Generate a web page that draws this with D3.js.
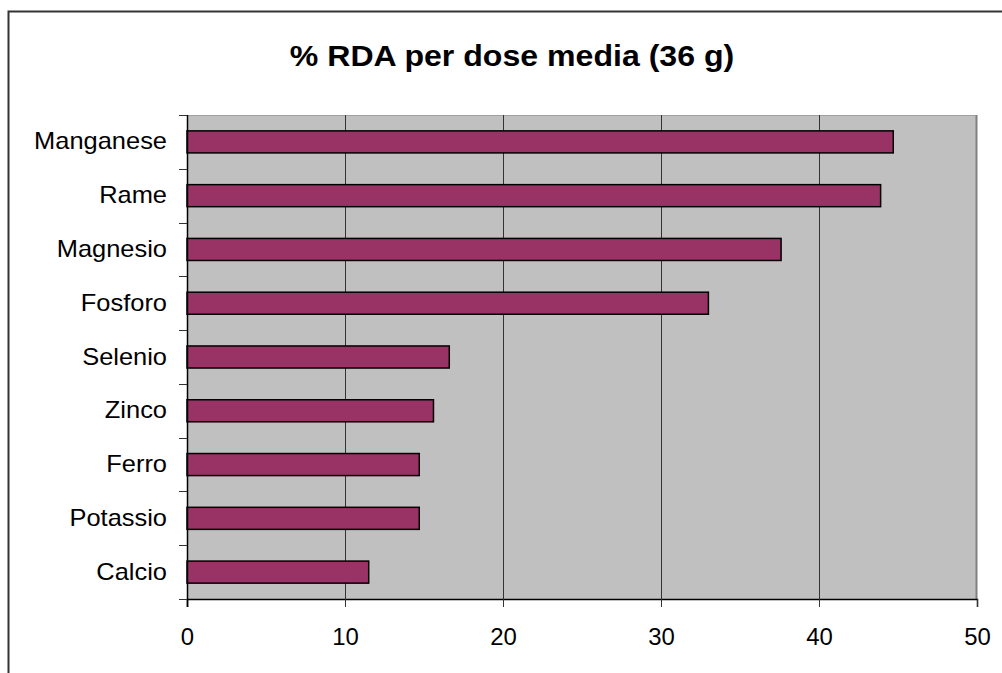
<!DOCTYPE html>
<html>
<head>
<meta charset="utf-8">
<script src="https://cdn.jsdelivr.net/npm/d3@7"></script>
<style>
  body { margin: 0; background: #fff; }
  text { font-family: "Liberation Sans", Arial, sans-serif; fill: #000; }
</style>
</head>
<body>
<div id="chart"></div>
<script>
// data, top to bottom as in the chart
var minerals = ["Manganese", "Rame", "Magnesio", "Fosforo", "Selenio", "Zinco", "Ferro", "Potassio", "Calcio"];
var rdaPct = [44.7, 43.9, 37.6, 33.0, 16.6, 15.6, 14.7, 14.7, 11.5];
var xTicks = [0, 10, 20, 30, 40, 50];
var chartTitle = "% RDA per dose media (36 g)";

var svgWidth = 1002;
var svgHeight = 673;

var margin = { top: 115, right: 25, bottom: 74, left: 187 };
var width = svgWidth - margin.left - margin.right;
var height = svgHeight - margin.top - margin.bottom;

var svg = d3.select("#chart")
  .append("svg")
  .attr("width", svgWidth)
  .attr("height", svgHeight);

// outer chart border (runs off the right and bottom)
svg.append("rect")
  .attr("x", 8.5)
  .attr("y", 11.5)
  .attr("width", 1100)
  .attr("height", 800)
  .attr("fill", "none")
  .attr("stroke", "#333")
  .attr("stroke-width", 2);

// title
svg.append("text")
  .attr("transform", "translate(512, 66) scale(1.07, 1)")
  .attr("text-anchor", "middle")
  .style("font-size", "30px")
  .style("font-weight", "bold")
  .text(chartTitle);

var chartGroup = svg.append("g")
  .attr("transform", `translate(${margin.left}, ${margin.top})`);

var xScale = d3.scaleLinear()
  .domain([0, 50])
  .range([0, width]);

var yScale = d3.scaleBand()
  .domain(minerals)
  .range([0, height])
  .paddingInner(0.59)
  .paddingOuter(0.295);

// plot area
chartGroup.append("rect")
  .attr("width", width)
  .attr("height", height)
  .attr("fill", "#c0c0c0");

chartGroup.append("line")
  .attr("x1", 0).attr("x2", width)
  .attr("y1", 0.5).attr("y2", 0.5)
  .attr("stroke", "#a0a0a0");

chartGroup.append("line")
  .attr("x1", width - 0.5).attr("x2", width - 0.5)
  .attr("y1", 0).attr("y2", height)
  .attr("stroke", "#808080")
  .attr("stroke-width", 2);

// vertical gridlines
chartGroup.selectAll(".grid")
  .data(xTicks.slice(1, -1))
  .enter()
  .append("line")
  .attr("class", "grid")
  .attr("x1", d => Math.round(xScale(d)) + 0.5)
  .attr("x2", d => Math.round(xScale(d)) + 0.5)
  .attr("y1", 0)
  .attr("y2", height)
  .attr("stroke", "#333")
  .attr("stroke-width", 1);

// bars
chartGroup.selectAll(".bar")
  .data(rdaPct)
  .enter()
  .append("rect")
  .attr("class", "bar")
  .attr("x", 0)
  .attr("y", (d, i) => yScale(minerals[i]))
  .attr("width", d => xScale(d))
  .attr("height", yScale.bandwidth())
  .attr("fill", "#993366")
  .attr("stroke", "#000")
  .attr("stroke-width", 1.5);

// x axis
var bottomAxis = d3.axisBottom(xScale)
  .tickValues(xTicks)
  .tickSize(8)
  .tickPadding(0)
  .tickFormat(d3.format("d"));

var xAxis = chartGroup.append("g")
  .attr("transform", `translate(0, ${height})`)
  .call(bottomAxis);

xAxis.select(".domain").attr("stroke", "#000").attr("stroke-width", 1.5);
xAxis.selectAll(".tick line").attr("stroke", "#333");
xAxis.selectAll(".tick text")
  .attr("y", null)
  .attr("dy", null)
  .attr("transform", "translate(0, 46) scale(1.04, 1)")
  .style("font-size", "23px")
  .style("font-family", "Liberation Sans, Arial, sans-serif");

// y axis: ticks sit on the category boundaries
var yAxisG = chartGroup.append("g");
yAxisG.append("line")
  .attr("x1", 0.5).attr("x2", 0.5)
  .attr("y1", 0).attr("y2", height + 8)
  .attr("stroke", "#000")
  .attr("stroke-width", 1.5);

yAxisG.selectAll(".ytick")
  .data(d3.range(minerals.length + 1))
  .enter()
  .append("line")
  .attr("class", "ytick")
  .attr("x1", -8)
  .attr("x2", 0)
  .attr("y1", i => Math.round(i * height / minerals.length) + 0.5)
  .attr("y2", i => Math.round(i * height / minerals.length) + 0.5)
  .attr("stroke", "#333");

yAxisG.selectAll(".ylabel")
  .data(minerals)
  .enter()
  .append("text")
  .attr("class", "ylabel")
  .attr("transform", d => `translate(-20, ${yScale(d) + yScale.bandwidth() / 2 + 7.5}) scale(1.06, 1)`)
  .attr("text-anchor", "end")
  .style("font-size", "24px")
  .text(d => d);
</script>
</body>
</html>
